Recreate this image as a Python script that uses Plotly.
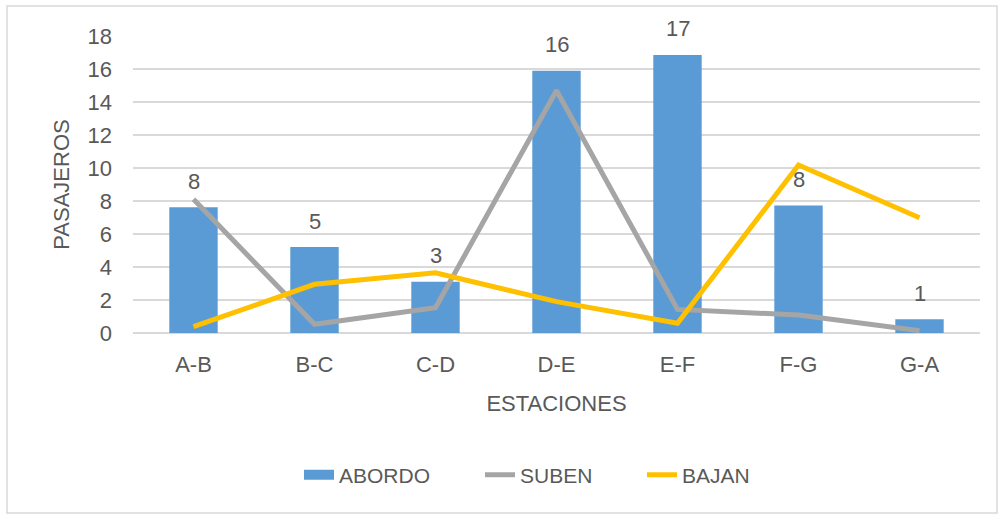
import plotly.graph_objects as go

categories = ["A-B", "B-C", "C-D", "D-E", "E-F", "F-G", "G-A"]
abordo = [7.62, 5.21, 3.11, 15.9, 16.85, 7.72, 0.83]
suben = [8.1, 0.53, 1.53, 14.7, 1.43, 1.09, 0.14]
bajan = [0.38, 2.95, 3.65, 1.9, 0.59, 10.18, 6.99]
abordo_labels = [str(int(round(v))) for v in abordo]
y_ticks = list(range(0, 19, 2))

FONT = "Liberation Sans"
TXT = "#595959"
BLUE, GRAY, YELLOW = "#5B9BD5", "#A5A5A5", "#FFC000"

W, H = 1001, 514
L, R, T, B = 133, 21, 36, 181
pw, ph = W - L - R, H - T - B

def px(x):
    return (x - L) / pw

def py(y):
    return (H - B - y) / ph

fig = go.Figure()
fig.add_trace(go.Bar(x=categories, y=abordo, name="ABORDO", marker_color=BLUE,
                     marker_line_width=0, showlegend=False))
fig.add_trace(go.Scatter(x=categories, y=suben, name="SUBEN", mode="lines",
                         line=dict(color=GRAY, width=5), legend="legend2"))
fig.add_trace(go.Scatter(x=categories, y=bajan, name="BAJAN", mode="lines",
                         line=dict(color=YELLOW, width=5), legend="legend3"))
# legend entry for the bars drawn as a wide block, like the original
fig.add_trace(go.Scatter(x=[None], y=[None], name="ABORDO", mode="lines",
                         line=dict(color=BLUE, width=14), legend="legend"))

for c, v, t in zip(categories, abordo, abordo_labels):
    fig.add_annotation(x=c, y=v, text=t, showarrow=False, yshift=26,
                       font=dict(family=FONT, size=22, color=TXT))

fig.add_shape(type="rect", xref="paper", yref="paper",
              x0=px(7), x1=px(997), y0=py(513), y1=py(6),
              line=dict(color="#D9D9D9", width=1.5), layer="below")

leg_font = dict(family=FONT, size=21, color=TXT)
def leg(xpix):
    return dict(orientation="h", x=px(xpix), xanchor="left", y=py(475), yanchor="middle",
                font=leg_font, bgcolor="rgba(0,0,0,0)")

fig.update_layout(
    width=W, height=H,
    margin=dict(l=L, r=R, t=T, b=B),
    paper_bgcolor="white", plot_bgcolor="white",
    bargap=0.6,
    font=dict(family=FONT, size=22, color=TXT),
    showlegend=True,
    legend=leg(299),
    legend2=leg(480),
    legend3=leg(642),
    xaxis=dict(type="category", range=[-0.5, 6.5], showgrid=False, showline=False,
               ticks="", ticklabelstandoff=16, tickfont=dict(size=22),
               title=dict(text="ESTACIONES", standoff=19, font=dict(size=22))),
    yaxis=dict(range=[0, 18], tickvals=y_ticks, showgrid=True, gridcolor="#D9D9D9",
               gridwidth=1.5, zeroline=True, zerolinecolor="#D9D9D9", zerolinewidth=1.5,
               showline=False, ticks="", ticklabelstandoff=20, tickfont=dict(size=22),
               title=dict(text="PASAJEROS", standoff=11, font=dict(size=22))),
)

fig.write_html("out.html")
